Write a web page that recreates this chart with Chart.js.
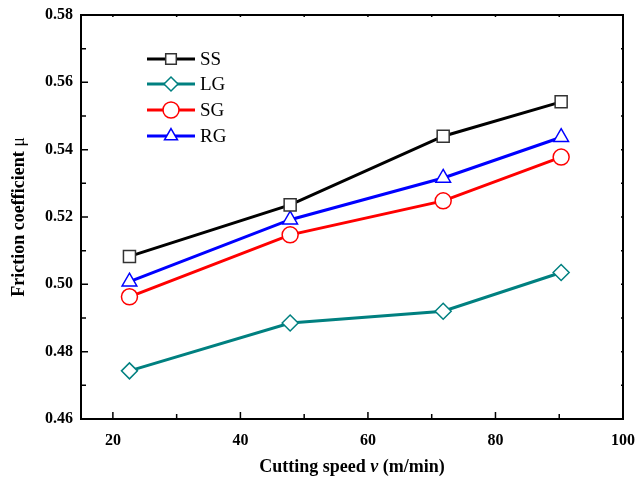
<!DOCTYPE html>
<html><head><meta charset="utf-8">
<script src="https://cdn.jsdelivr.net/npm/chart.js@4/dist/chart.umd.min.js"></script>
<style>html,body{margin:0;padding:0;background:#fff}#wrap{width:636px;height:482px}</style>
</head><body><div id="wrap"><canvas id="c" width="636" height="482"></canvas></div>
<script>
const speeds = [22.6, 47.8, 71.8, 90.3];
const ssValues = [0.5083, 0.5236, 0.5440, 0.5542];
const lgValues = [0.4743, 0.4885, 0.4920, 0.5035];
const sgValues = [0.4963, 0.5147, 0.5248, 0.5378];
const rgValues = [0.5008, 0.5192, 0.5316, 0.5437];
const seriesNames = ['SS', 'LG', 'SG', 'RG'];
const xTicks = [20, 40, 60, 80, 100];
const xMinorTicks = [30, 50, 70, 90];
const yTicks = [0.46, 0.48, 0.50, 0.52, 0.54, 0.56, 0.58];
const yMinorTicks = [0.47, 0.49, 0.51, 0.53, 0.55, 0.57];

const styles = [
  {color:'#000000', pointColor:'#333333', shape:'rect', r:8.5, lr:7.5},
  {color:'#008080', pointColor:'#008080', shape:'rectRot', r:8, lr:7},
  {color:'#ff0000', pointColor:'#ff0000', shape:'circle', r:8, lr:8},
  {color:'#0000ff', pointColor:'#0000ff', shape:'triangle', r:8.5, lr:7.5}
];
const allValues = [ssValues, lgValues, sgValues, rgValues];
const datasets = allValues.map((vals, i) => ({
  label: seriesNames[i],
  data: speeds.map((x, j) => ({x, y: vals[j]})),
  borderColor: styles[i].color,
  borderWidth: 3,
  pointStyle: styles[i].shape,
  pointRadius: styles[i].r,
  pointHoverRadius: styles[i].r,
  pointBackgroundColor: '#ffffff',
  pointBorderColor: styles[i].pointColor,
  pointBorderWidth: 1.5,
  tension: 0
}));

const serif = "'Liberation Serif', 'Times New Roman', serif";

const decor = {
  id: 'decor',
  afterDraw(chart) {
    const {ctx, chartArea: a, scales: {x, y}} = chart;
    ctx.save();
    ctx.strokeStyle = '#000';
    ctx.lineWidth = 2;
    ctx.strokeRect(a.left, a.top, a.right - a.left, a.bottom - a.top);
    ctx.lineWidth = 1.5;
    ctx.beginPath();
    xTicks.forEach(v => { const p = x.getPixelForValue(v);
      ctx.moveTo(p, a.bottom); ctx.lineTo(p, a.bottom - 7);
      ctx.moveTo(p, a.top); ctx.lineTo(p, a.top + 2); });
    xMinorTicks.forEach(v => { const p = x.getPixelForValue(v);
      ctx.moveTo(p, a.bottom); ctx.lineTo(p, a.bottom - 5);
      ctx.moveTo(p, a.top); ctx.lineTo(p, a.top + 2); });
    yTicks.forEach(v => { const p = y.getPixelForValue(v);
      ctx.moveTo(a.left, p); ctx.lineTo(a.left + 7, p);
      ctx.moveTo(a.right, p); ctx.lineTo(a.right - 2, p); });
    yMinorTicks.forEach(v => { const p = y.getPixelForValue(v);
      ctx.moveTo(a.left, p); ctx.lineTo(a.left + 5, p);
      ctx.moveTo(a.right, p); ctx.lineTo(a.right - 2, p); });
    ctx.stroke();

    // legend
    const lx0 = 147, lx1 = 195, ys = [59, 84, 110, 136];
    seriesNames.forEach((n, i) => {
      const yy = ys[i];
      ctx.strokeStyle = styles[i].color;
      ctx.lineWidth = 3;
      ctx.beginPath(); ctx.moveTo(lx0, yy); ctx.lineTo(lx1, yy); ctx.stroke();
      ctx.fillStyle = '#fff';
      ctx.strokeStyle = styles[i].pointColor;
      ctx.lineWidth = 1.5;
      Chart.helpers.drawPoint(ctx, {pointStyle: styles[i].shape, radius: styles[i].lr, rotation: 0, borderWidth: 1.5}, (lx0 + lx1) / 2, yy);
      ctx.fillStyle = '#000';
      ctx.font = "19px " + serif;
      ctx.textBaseline = 'middle';
      ctx.textAlign = 'left';
      ctx.fillText(n, 200, yy + 1);
    });

    // axis titles
    ctx.fillStyle = '#000';
    ctx.textBaseline = 'middle';
    const xt1 = 'Cutting speed ', xt2 = 'v', xt3 = ' (m/min)';
    const fb = "bold 18px " + serif, fi = "bold italic 18px " + serif;
    ctx.font = fb; const w1 = ctx.measureText(xt1).width, w3 = ctx.measureText(xt3).width;
    ctx.font = fi; const w2 = ctx.measureText(xt2).width;
    let sx = (a.left + a.right) / 2 - (w1 + w2 + w3) / 2;
    const ty = 467;
    ctx.textAlign = 'left';
    ctx.font = fb; ctx.fillText(xt1, sx, ty);
    ctx.font = fi; ctx.fillText(xt2, sx + w1, ty);
    ctx.font = fb; ctx.fillText(xt3, sx + w1 + w2, ty);

    ctx.translate(19, (a.top + a.bottom) / 2);
    ctx.rotate(-Math.PI / 2);
    const yt1 = 'Friction coefficient ', yt2 = 'μ';
    ctx.font = fb; const v1 = ctx.measureText(yt1).width;
    ctx.font = "18px " + serif; const v2 = ctx.measureText(yt2).width;
    let sy = -(v1 + v2) / 2;
    ctx.font = fb; ctx.fillText(yt1, sy, 0);
    ctx.font = "18px " + serif; ctx.fillText(yt2, sy + v1, 0);
    ctx.restore();
  }
};

new Chart(document.getElementById('c'), {
  type: 'line',
  data: {datasets},
  options: {
    responsive: false,
    animation: false,
    events: [],
    layout: {padding: {left: 0, top: 15, right: 13, bottom: 0}},
    plugins: {legend: {display: false}, tooltip: {enabled: false}},
    scales: {
      x: {
        type: 'linear', min: 15, max: 100,
        grid: {display: false, drawTicks: false},
        border: {display: false},
        afterBuildTicks: s => { s.ticks = xTicks.map(v => ({value: v})); },
        afterFit: s => { s.height = 63; s.paddingLeft = 0; s.paddingRight = 0; },
        ticks: {padding: 12, maxRotation: 0, autoSkip: false, color: '#000', font: {family: serif, size: 16, weight: 'bold'}}
      },
      y: {
        type: 'linear', min: 0.46, max: 0.58,
        grid: {display: false, drawTicks: false},
        border: {display: false},
        afterBuildTicks: s => { s.ticks = yTicks.map(v => ({value: v})); },
        afterFit: s => { s.width = 81; s.paddingTop = 0; s.paddingBottom = 0; },
        ticks: {padding: 8, autoSkip: false, color: '#000', font: {family: serif, size: 16, weight: 'bold'},
          callback: v => v.toFixed(2)}
      }
    }
  },
  plugins: [decor]
});
</script></body></html>
